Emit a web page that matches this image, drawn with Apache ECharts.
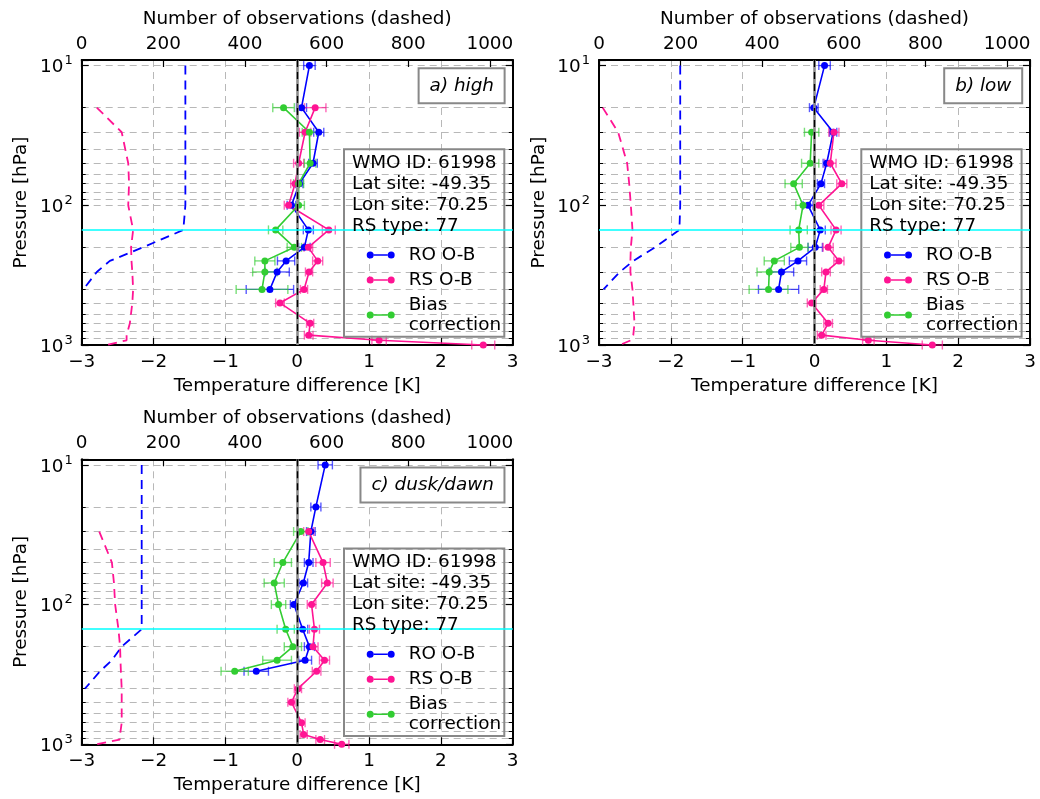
<!DOCTYPE html>
<html><head><meta charset="utf-8">
<script src="https://cdn.jsdelivr.net/npm/echarts@6/dist/echarts.min.js"></script>
<style>html,body{margin:0;padding:0;background:#fff}#c{width:1040px;height:799px}</style>
</head><body><div id="c"></div>
<script>
// ---------------- data ----------------
const levelsRO = [10,20,30,50,70,100,150,200,250,300,400];
const levelsRO_c = [10,20,30,50,70,100,150,200,250,300];
const levelsRS_a = [20,30,50,70,100,150,200,250,300,400,500,700,850,925,1000];
const levelsRS_bc = [30,50,70,100,150,200,250,300,400,500,700,850,925,1000];
const levelsBias_a = [20,30,50,70,100,150,200,250,300,400];
const levelsBias_b = [30,50,70,100,150,200,250,300,400];
const levelsBias_c = [30,50,70,100,150,200,250,300];
const levelsCountRO = [10,20,30,50,70,100,150,200,250,300,400];
const levelsCountRS_ab = [20,30,50,70,100,150,200,250,300,400,500,700,850,925,1000];
const levelsCountRS_c = [30,50,70,100,150,200,250,300,400,500,700,850,925,1000];

// a) high
const highRO = [0.17,0.06,0.30,0.22,0.03,-0.08,0.155,0.10,-0.155,-0.28,-0.38];
const highROerr = [0.08,0.07,0.07,0.06,0.05,0.06,0.07,0.08,0.12,0.17,0.33];
const highRS = [0.25,0.11,0.02,-0.03,-0.12,0.44,0.155,0.285,0.165,0.095,-0.24,0.18,0.16,1.14,2.59];
const highRSerr = [0.15,0.08,0.07,0.06,0.06,0.09,0.06,0.07,0.05,0.05,0.06,0.05,0.06,0.1,0.16];
const highBias = [-0.19,0.17,0.18,0.02,0.02,-0.30,-0.04,-0.45,-0.45,-0.49];
const highBiasErr = [0.15,0.1,0.08,0.07,0.08,0.1,0.1,0.14,0.17,0.36];
const highCountRO = [254,254,254,254,254,254,249,150,69,37,4];
const highCountRS = [37,98,114,116,114,126,121,122,124,126,124,118,110,110,62];

// b) low
const lowRO = [0.14,-0.01,0.26,0.17,0.09,-0.09,0.08,0.01,-0.23,-0.46,-0.50];
const lowROerr = [0.08,0.06,0.05,0.05,0.05,0.07,0.07,0.1,0.12,0.17,0.28];
const lowRS = [0.27,0.22,0.38,0.06,0.30,0.19,0.34,0.16,0.13,-0.04,0.19,0.10,0.75,1.64];
const lowRSerr = [0.07,0.08,0.07,0.07,0.07,0.07,0.07,0.06,0.05,0.06,0.06,0.06,0.08,0.14];
const lowBias = [-0.04,-0.06,-0.29,-0.16,-0.22,-0.21,-0.56,-0.63,-0.64];
const lowBiasErr = [0.1,0.12,0.12,0.1,0.12,0.12,0.14,0.17,0.27];
const lowCountRO = [199,199,199,199,199,199,197,137,84,51,11];
const lowCountRS = [9,47,69,74,78,82,78,77,77,82,84,87,84,78,51];

// c) dusk/dawn
const duskRO = [0.39,0.26,0.19,0.16,0.085,-0.045,0.076,0.17,0.11,-0.57];
const duskROerr = [0.1,0.07,0.06,0.06,0.06,0.05,0.07,0.07,0.09,0.17];
const duskRS = [0.16,0.36,0.42,0.20,0.24,0.22,0.38,0.27,0.01,-0.08,0.06,0.09,0.32,0.62];
const duskRSerr = [0.07,0.1,0.08,0.06,0.07,0.07,0.07,0.06,0.05,0.05,0.05,0.05,0.06,0.1];
const duskBias = [0.05,-0.20,-0.32,-0.26,-0.16,-0.06,-0.28,-0.87];
const duskBiasErr = [0.1,0.12,0.14,0.1,0.12,0.12,0.2,0.19];
const duskCountRO = [147,147,147,147,147,147,147,98,74,45,8];
const duskCountRS = [43,74,79,82,90,94,95,96,98,98,98,94,93,37];

const tropopause = 150;
const stationInfo = ['WMO ID: 61998','Lat site: -49.35','Lon site: 70.25','RS type: 77'];
const seriesNames = ['RO O-B','RS O-B','Bias correction'];
const panelLabels = ['a) high','b) low','c) dusk/dawn'];

// ---------------- layout / style ----------------
const FONT = 'DejaVu Sans';
const FS = 18.4;
const C_RO = '#0000ff', C_RS = '#ff1493', C_BIAS = '#32cd32';
const GW = 431, GH = 285;
const panelPos = [[81.7,60],[599,60],[81.7,459.3]];
const panels = [
  {ro:highRO, roErr:highROerr, roLev:levelsRO, rs:highRS, rsErr:highRSerr, rsLev:levelsRS_a,
   bias:highBias, biasErr:highBiasErr, biasLev:levelsBias_a, cRO:highCountRO, cRS:highCountRS, cRSLev:levelsCountRS_ab},
  {ro:lowRO, roErr:lowROerr, roLev:levelsRO, rs:lowRS, rsErr:lowRSerr, rsLev:levelsRS_bc,
   bias:lowBias, biasErr:lowBiasErr, biasLev:levelsBias_b, cRO:lowCountRO, cRS:lowCountRS, cRSLev:levelsCountRS_ab},
  {ro:duskRO, roErr:duskROerr, roLev:levelsRO_c, rs:duskRS, rsErr:duskRSerr, rsLev:levelsRS_bc,
   bias:duskBias, biasErr:duskBiasErr, biasLev:levelsBias_c, cRO:duskCountRO, cRS:duskCountRS, cRSLev:levelsCountRS_c}
];

const grid = [], xAxis = [], yAxis = [], series = [], legend = [], title = [], graphic = [];
const axisText = {fontFamily:FONT, fontSize:FS, color:'#000'};
const gridLine = {show:true, lineStyle:{color:'#b8b8b8', width:1, type:[7,5]}};
const minus = v => v < 0 ? '\u2212' + Math.abs(v) : String(v);
const legendIcon = 'path://M0,4a3.5,3.5 0 1,0 7,0a3.5,3.5 0 1,0 -7,0Z M21,4a3.5,3.5 0 1,0 7,0a3.5,3.5 0 1,0 -7,0Z M6.8,3.2H21.2V4.8H6.8Z';

function errBars(vals, errs, lev, color, xi, yi) {
  return {
    type:'custom', xAxisIndex:xi, yAxisIndex:yi, silent:true, z:3,
    data: vals.map((v,k) => [v, lev[k], errs[k]]),
    encode:{x:0, y:1},
    renderItem:(params, api) => {
      const x = api.value(0), y = api.value(1), e = api.value(2);
      const p1 = api.coord([x - e, y]), p2 = api.coord([x + e, y]);
      const st = {stroke:color, lineWidth:1.4, opacity:0.65};
      const h = 4.5;
      return {type:'group', children:[
        {type:'line', shape:{x1:p1[0], y1:p1[1], x2:p2[0], y2:p2[1]}, style:st},
        {type:'line', shape:{x1:p1[0], y1:p1[1]-h, x2:p1[0], y2:p1[1]+h}, style:st},
        {type:'line', shape:{x1:p2[0], y1:p2[1]-h, x2:p2[0], y2:p2[1]+h}, style:st}
      ]};
    }
  };
}
function obLine(name, vals, lev, color, xi, yi) {
  return {type:'line', name:name, xAxisIndex:xi, yAxisIndex:yi, z:4,
    data: vals.map((v,k) => [v, lev[k]]),
    symbol:'circle', symbolSize:7, showSymbol:true,
    lineStyle:{color:color, width:1.6}, itemStyle:{color:color}};
}

panels.forEach((P, i) => {
  const [L, T] = panelPos[i];
  const ox = L - panelPos[0][0], oy = T - panelPos[0][1];
  grid.push({left:L, top:T, width:GW, height:GH, containLabel:false});
  const xb = xAxis.length, xt = xb + 1, yl = yAxis.length;
  xAxis.push({
    gridIndex:i, type:'value', position:'bottom', min:-3, max:3, interval:1,
    axisLine:{show:true, onZero:false, lineStyle:{color:'#000', width:2}},
    axisTick:{show:true, inside:true, length:7, lineStyle:{color:'#000', width:1.2}},
    axisLabel:Object.assign({margin:8, formatter:minus}, axisText),
    splitLine:gridLine,
    name:'Temperature difference [K]', nameLocation:'middle', nameGap:32, nameTextStyle:axisText
  });
  xAxis.push({
    gridIndex:i, type:'value', position:'top', min:0, max:1056, interval:200,
    axisLine:{show:true, onZero:false, lineStyle:{color:'#000', width:2}},
    axisTick:{show:true, inside:true, length:7, lineStyle:{color:'#000', width:1.2}},
    axisLabel:Object.assign({margin:7, formatter:v => (v % 200 === 0 ? String(v) : '')}, axisText),
    splitLine:{show:false},
    name:'Number of observations (dashed)', nameLocation:'middle', nameGap:32, nameTextStyle:axisText
  });
  const yBase = {
    gridIndex:i, type:'log', logBase:10, inverse:true, min:9.12, max:1000,
    axisLine:{show:true, onZero:false, lineStyle:{color:'#000', width:2}},
    axisTick:{show:true, inside:true, length:7, lineStyle:{color:'#000', width:1.2}},
    minorTick:{show:true, splitNumber:9, length:4, lineStyle:{color:'#000', width:1}}
  };
  yAxis.push(Object.assign({}, yBase, {
    position:'left',
    axisLabel:{margin:9, fontFamily:FONT, color:'#000',
      formatter:v => { const e = Math.log10(v); if (Math.abs(e - Math.round(e)) > 1e-6) return ''; return '{b|10}{s|' + Math.round(e) + '}'; },
      rich:{b:{fontFamily:FONT, fontSize:FS, color:'#000', verticalAlign:'bottom'},
            s:{fontFamily:FONT, fontSize:13, color:'#000', verticalAlign:'bottom', padding:[0,0,9,1]}}},
    splitLine:gridLine, minorSplitLine:gridLine,
    name:'Pressure [hPa]', nameLocation:'middle', nameGap:51, nameTextStyle:axisText
  }));
  yAxis.push(Object.assign({}, yBase, {
    position:'right', axisLabel:{show:false}, splitLine:{show:false}, minorSplitLine:{show:false}
  }));

  // reference lines (zero line + tropopause)
  series.push({type:'line', xAxisIndex:xb, yAxisIndex:yl, data:[], z:2, silent:true,
    markLine:{silent:true, symbol:['none','none'], label:{show:false}, animation:false,
      data:[
        {xAxis:0, lineStyle:{color:'#8c8c8c', width:2.6, type:'solid'}},
        {xAxis:0, lineStyle:{color:'#000', width:1.4, type:[7,5]}},
        {yAxis:tropopause, lineStyle:{color:'#00ffff', width:1.5, type:'solid'}}
      ]}});
  // number of observations (dashed)
  series.push({type:'line', xAxisIndex:xt, yAxisIndex:yl, z:2, symbol:'none', silent:true,
    data:P.cRO.map((v,k) => [v, levelsCountRO[k]]), lineStyle:{color:C_RO, width:1.8, type:[9,6]}});
  series.push({type:'line', xAxisIndex:xt, yAxisIndex:yl, z:2, symbol:'none', silent:true,
    data:P.cRS.map((v,k) => [v, P.cRSLev[k]]), lineStyle:{color:C_RS, width:1.8, type:[9,6]}});
  // error bars
  series.push(errBars(P.ro, P.roErr, P.roLev, C_RO, xb, yl));
  series.push(errBars(P.rs, P.rsErr, P.rsLev, C_RS, xb, yl));
  series.push(errBars(P.bias, P.biasErr, P.biasLev, C_BIAS, xb, yl));
  // profiles
  series.push(obLine(seriesNames[0], P.ro, P.roLev, C_RO, xb, yl));
  series.push(obLine(seriesNames[1], P.rs, P.rsLev, C_RS, xb, yl));
  series.push(obLine(seriesNames[2], P.bias, P.biasLev, C_BIAS, xb, yl));

  legend.push({
    data:seriesNames, orient:'vertical', left:361.7 + ox, top:240 + oy,
    itemWidth:28, itemHeight:7, itemGap:5, icon:legendIcon, selectedMode:false, z:10,
    formatter:n => (n === 'Bias correction' ? 'Bias\ncorrection' : n),
    textStyle:{fontFamily:FONT, fontSize:FS, lineHeight:20, color:'#000', padding:[0,0,0,9]}
  });
  title.push({
    text:stationInfo.join('\n'), left:352 + ox, top:152.5 + oy, padding:0, z:10,
    textStyle:{fontFamily:FONT, fontSize:FS, fontWeight:'normal', lineHeight:21, color:'#000'}
  });
  title.push({
    text:panelLabels[i], right:1040 - (L + GW - 7.7), top:68.3 + oy, padding:[7,11],
    borderColor:'#888', borderWidth:2, backgroundColor:'#fff', z:10,
    textStyle:{fontFamily:FONT, fontSize:FS, fontWeight:'normal', fontStyle:'italic', lineHeight:21, color:'#000'}
  });
  graphic.push({type:'rect', z:5, silent:true,
    shape:{x:344 + ox, y:149.3 + oy, width:160.3, height:187.4},
    style:{fill:'none', stroke:'#888', lineWidth:2}});
});

const chart = echarts.init(document.getElementById('c'), null, {renderer:'canvas'});
chart.setOption({
  animation:false, backgroundColor:'#fff',
  grid, xAxis, yAxis, series, legend, title, graphic
});
</script></body></html>
